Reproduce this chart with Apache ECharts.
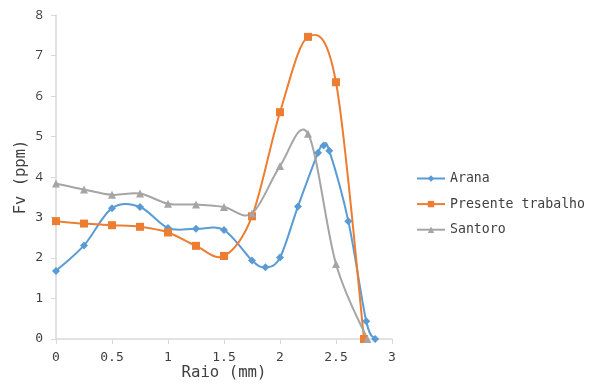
<!DOCTYPE html>
<html><head><meta charset="utf-8">
<script src="https://cdn.jsdelivr.net/npm/echarts@6/dist/echarts.min.js"></script>
<style>html,body{margin:0;padding:0;background:#fff}#c{width:592px;height:389px}</style>
</head><body><div id="c"></div>
<script>
const xTicks = [0, 0.5, 1, 1.5, 2, 2.5, 3];
const yTicks = [0, 1, 2, 3, 4, 5, 6, 7, 8];
const aranaX = [0, 0.25, 0.5, 0.75, 1.0, 1.25, 1.5, 1.75, 1.87, 2.0, 2.16, 2.34, 2.39, 2.44, 2.61, 2.77, 2.85];
const aranaY = [1.68, 2.31, 3.23, 3.26, 2.74, 2.72, 2.69, 1.94, 1.77, 2.01, 3.27, 4.6, 4.78, 4.65, 2.91, 0.44, 0];
const presX = [0, 0.25, 0.5, 0.75, 1.0, 1.25, 1.5, 1.75, 2.0, 2.25, 2.5, 2.75];
const presY = [2.91, 2.85, 2.81, 2.77, 2.63, 2.30, 2.05, 3.03, 5.60, 7.46, 6.34, 0];
const santX = [0, 0.25, 0.5, 0.75, 1.0, 1.25, 1.5, 1.75, 2.0, 2.25, 2.5, 2.78];
const santY = [3.84, 3.69, 3.56, 3.59, 3.34, 3.32, 3.26, 3.10, 4.27, 5.07, 1.85, 0];
const names = ['Arana', 'Presente trabalho', 'Santoro'];
const colors = ['#5b9bd5', '#ed7d31', '#a5a5a5'];

const zip = (xs, ys) => xs.map((x, i) => [x, ys[i]]);
const mono = '"DejaVu Sans Mono", "Liberation Mono", monospace';
const sans = '"Open Sans", "DejaVu Sans", sans-serif';
const datasets = [zip(aranaX, aranaY), zip(presX, presY), zip(santX, santY)];
const symbols = ['diamond', 'rect', 'triangle'];
const symSizes = [8, 8, 8];

// Spreadsheet-style smoothed curve: cubic Bezier segments through the points,
// positioned with the chart's own coordinate system (api.coord).
function curveSeries(idx) {
  const pts = datasets[idx];
  return {
    type: 'custom', silent: true, z: 1,
    data: [0],
    renderItem: (params, api) => {
      const p = pts.map(d => api.coord(d));
      const n = p.length;
      const children = [];
      const t = 1 / 6;
      for (let i = 0; i < n - 1; i++) {
        const p0 = p[Math.max(i - 1, 0)], p1 = p[i], p2 = p[i + 1], p3 = p[Math.min(i + 2, n - 1)];
        children.push({
          type: 'bezierCurve',
          shape: {
            x1: p1[0], y1: p1[1], x2: p2[0], y2: p2[1],
            cpx1: p1[0] + (p2[0] - p0[0]) * t, cpy1: p1[1] + (p2[1] - p0[1]) * t,
            cpx2: p2[0] - (p3[0] - p1[0]) * t, cpy2: p2[1] - (p3[1] - p1[1]) * t
          },
          style: { stroke: colors[idx], lineWidth: 2, fill: null }
        });
      }
      return { type: 'group', children };
    }
  };
}

const chart = echarts.init(document.getElementById('c'));
const lineSeries = names.map((nm, i) => ({
  name: nm, type: 'line', data: datasets[i], symbol: symbols[i], symbolSize: symSizes[i],
  showSymbol: true, z: 3,
  itemStyle: { color: colors[i] }, lineStyle: { width: 2, color: colors[i], opacity: 0 }
}));
chart.setOption({
  animation: false,
  grid: { left: 56, right: 200, top: 15, bottom: 50, containLabel: false },
  legend: {
    orient: 'vertical', left: 411, top: 167, padding: 5, itemGap: 12.6, itemWidth: 28, itemHeight: 8,
    textStyle: { fontFamily: mono, fontSize: 13.2, color: '#404040' },
    data: names.map((nm, i) => ({ name: nm, lineStyle: { opacity: 1, width: 2, color: colors[i] } }))
  },
  xAxis: {
    type: 'value', min: xTicks[0], max: xTicks[xTicks.length - 1], interval: 0.5,
    name: 'Raio (mm)', nameLocation: 'middle', nameGap: 26, nameMoveOverlap: false,
    nameTextStyle: { fontFamily: mono, fontSize: 15.7, color: '#404040' },
    axisLine: { lineStyle: { color: '#d9d9d9', width: 1.5 } },
    axisTick: { show: true, length: 5, lineStyle: { color: '#d9d9d9' } },
    axisLabel: { fontFamily: mono, fontSize: 13, color: '#404040', margin: 12 },
    splitLine: { show: false }
  },
  yAxis: {
    type: 'value', min: yTicks[0], max: yTicks[yTicks.length - 1], interval: 1,
    name: 'Fv (ppm)', nameLocation: 'middle', nameGap: 27, nameMoveOverlap: false,
    nameTextStyle: { fontFamily: mono, fontSize: 15.5, color: '#404040' },
    axisLine: { show: true, lineStyle: { color: '#d9d9d9', width: 1.5 } },
    axisTick: { show: true, length: 5, lineStyle: { color: '#d9d9d9' } },
    axisLabel: {
      margin: 13, color: '#404040',
      formatter: v => (v >= 4 ? '{s|' + v + '}' : '{m|' + v + '}'),
      rich: { s: { fontFamily: sans, fontSize: 13, color: '#404040' }, m: { fontFamily: mono, fontSize: 13, color: '#404040' } }
    },
    splitLine: { show: false }
  },
  series: lineSeries.concat([curveSeries(0), curveSeries(1), curveSeries(2)])
});
</script></body></html>
